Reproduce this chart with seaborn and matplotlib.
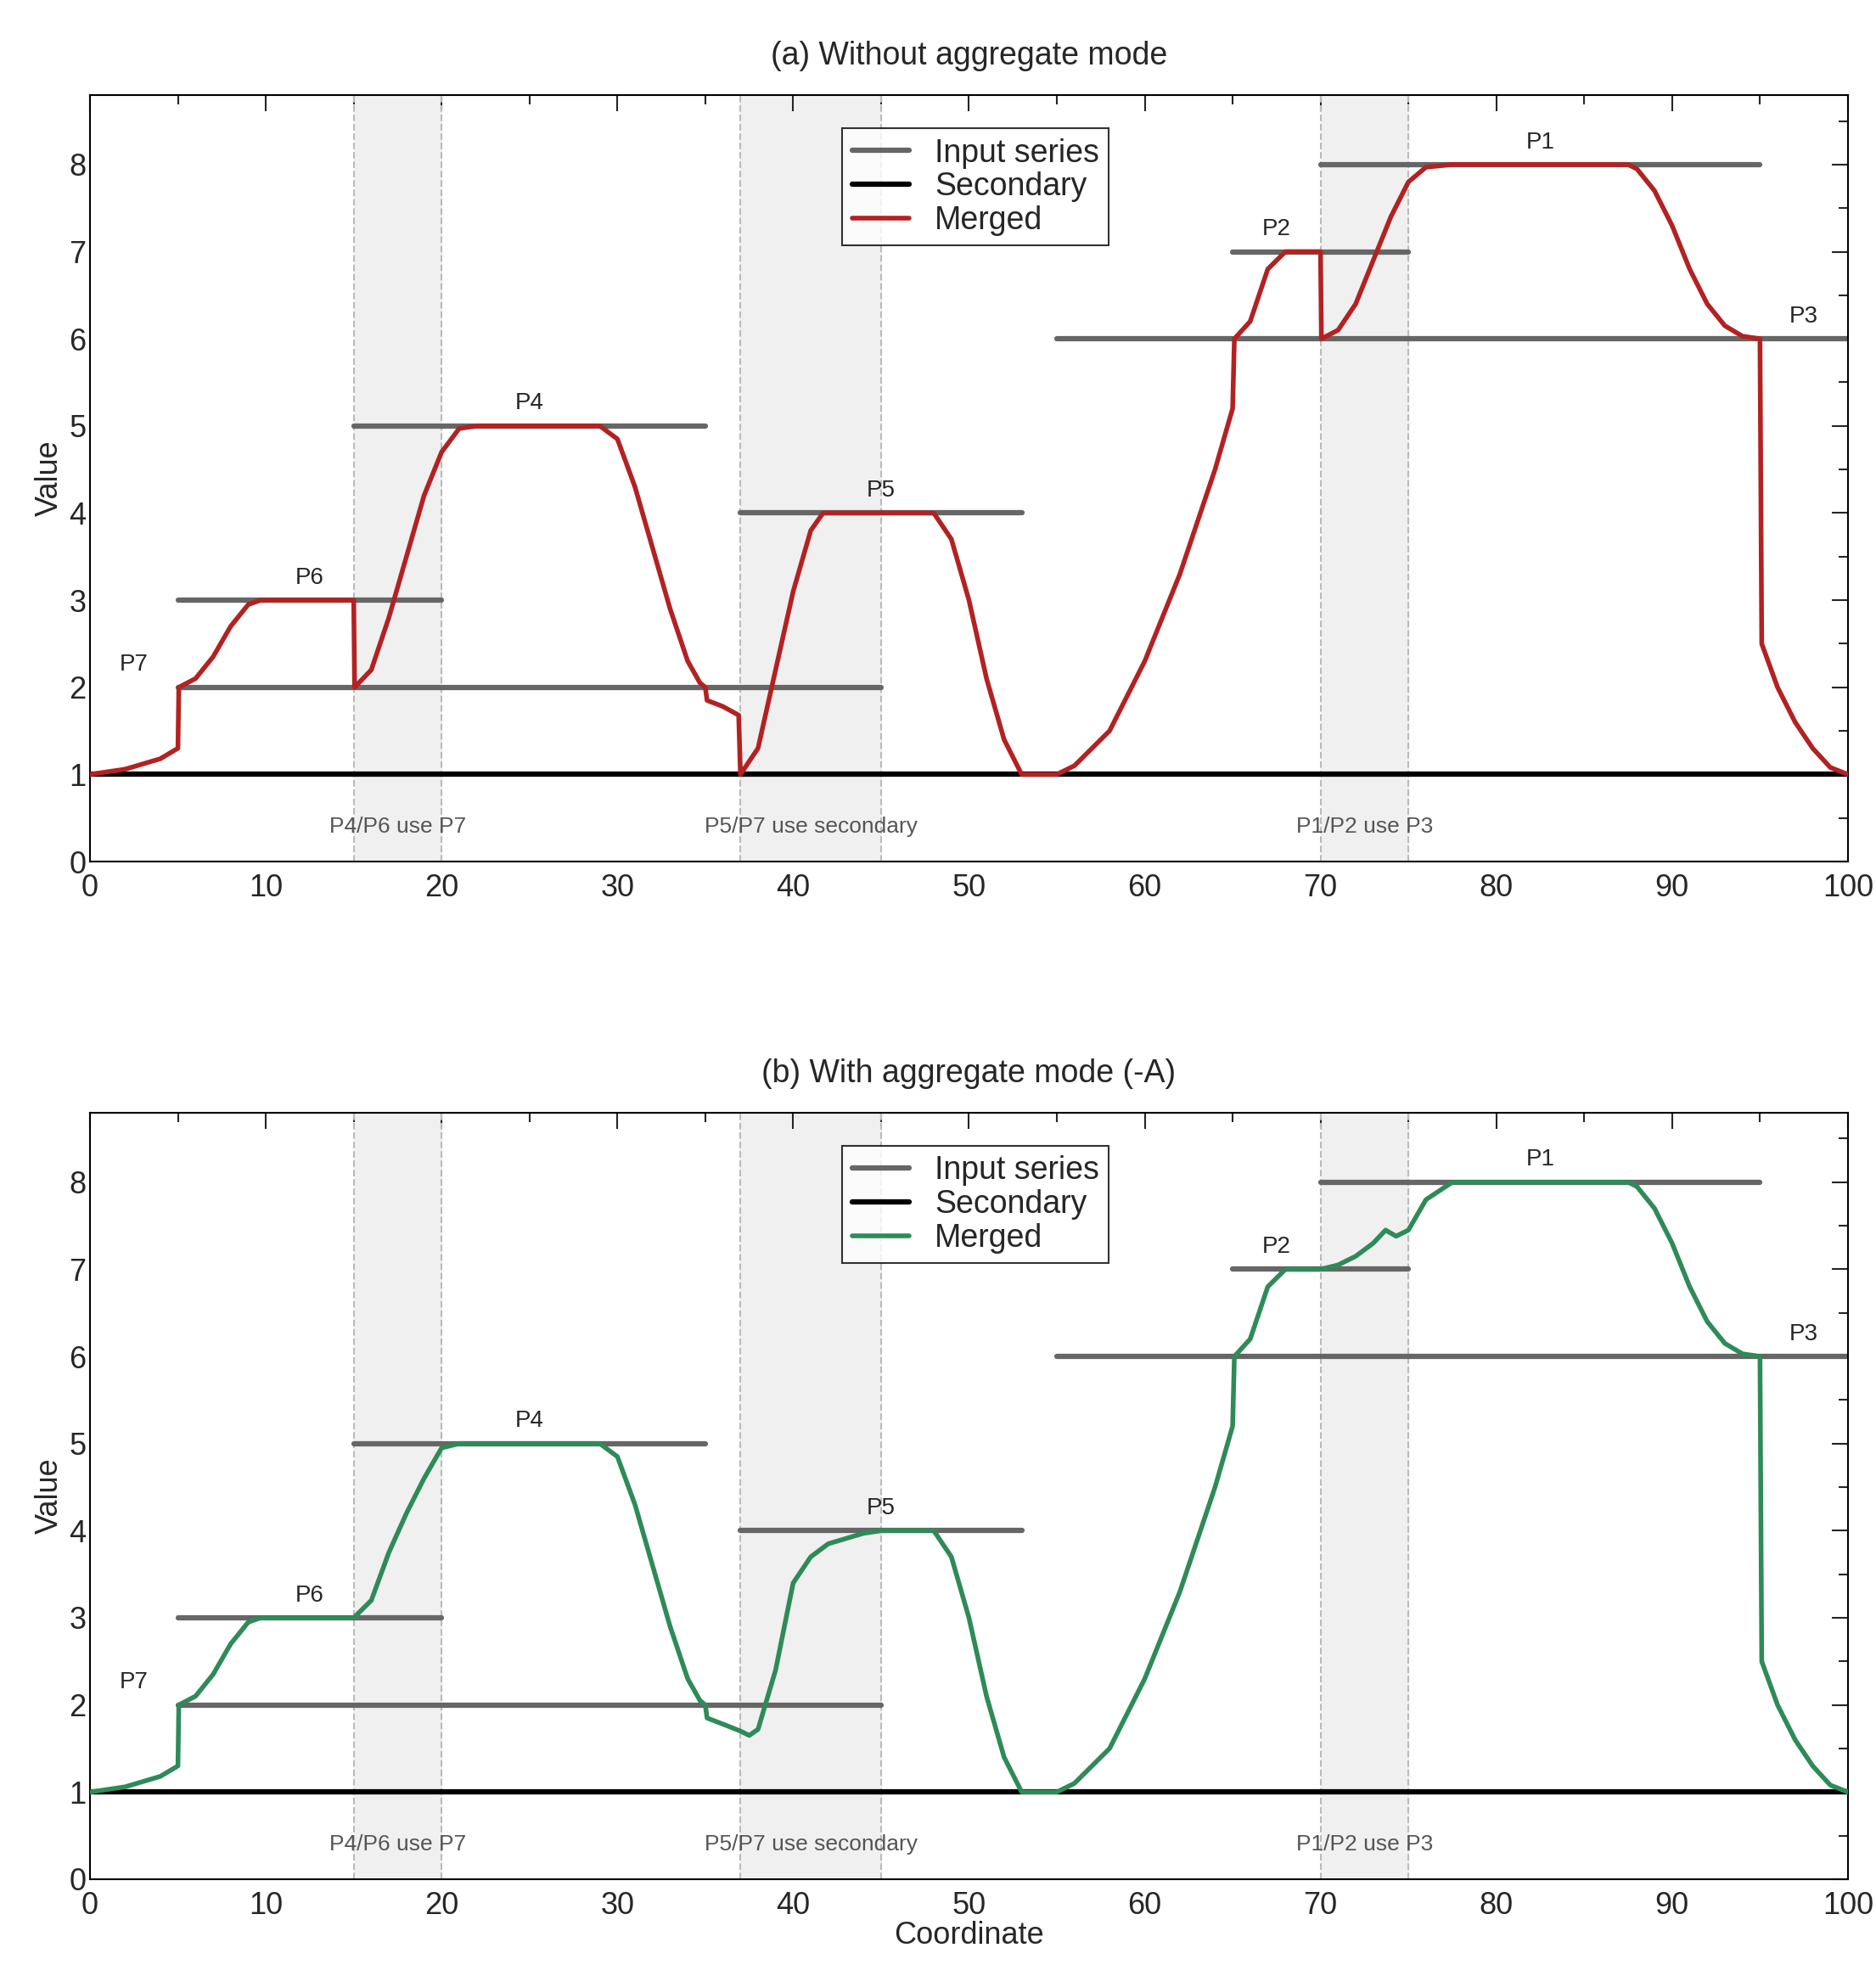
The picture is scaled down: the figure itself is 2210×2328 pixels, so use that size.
import matplotlib
matplotlib.use("Agg")
import matplotlib.pyplot as plt
import seaborn as sns
import pandas as pd
from matplotlib.ticker import MultipleLocator

sns.set_theme(style="white")
plt.rcParams['font.family'] = ['Liberation Sans', 'DejaVu Sans']

# input series: name, x start, x end, value
series_names = ["P7", "P6", "P4", "P5", "P3", "P2", "P1"]
series_x0 = [5, 5, 15, 37, 55, 65, 70]
series_x1 = [45, 20, 35, 53, 100, 75, 95]
series_y = [2, 3, 5, 4, 6, 7, 8]
label_x = [2.5, 12.5, 25, 45, 97.5, 67.5, 82.5]

shade_x0 = [15, 37, 70]
shade_x1 = [20, 45, 75]
shade_text = ["P4/P6 use P7", "P5/P7 use secondary", "P1/P2 use P3"]

# merged curve, panel (a)
merged_a_x = [0, 2, 4, 5, 5.05, 6, 7, 8, 9, 9.7, 15, 15.05, 16, 17, 18, 19, 20, 21, 22, 29, 30, 31, 32, 33, 34, 34.7, 35, 35.1,
              36, 36.9, 37, 38, 39, 40, 41, 41.7, 48, 49, 50, 51, 52, 53, 55, 56, 58, 60, 62, 64, 65, 65.1, 66, 67, 68,
              70, 70.05, 71, 72, 73, 74, 75, 76, 77.5, 87.5, 88, 89, 90, 91, 92, 93, 94, 95, 95.1, 96, 97, 98, 99, 100]
merged_a_y = [1, 1.06, 1.18, 1.3, 2, 2.1, 2.35, 2.7, 2.95, 3, 3, 2, 2.2, 2.8, 3.5, 4.2, 4.7, 4.97, 5, 5, 4.85, 4.3, 3.6, 2.9, 2.3, 2.05, 2.0, 1.85,
              1.78, 1.68, 1, 1.3, 2.2, 3.1, 3.8, 4, 4, 3.7, 3, 2.1, 1.4, 1, 1, 1.1, 1.5, 2.3, 3.3, 4.5, 5.2, 6, 6.2, 6.8, 7,
              7, 6, 6.1, 6.4, 6.9, 7.4, 7.8, 7.97, 8, 8, 7.95, 7.7, 7.3, 6.8, 6.4, 6.15, 6.03, 6, 2.5, 2.0, 1.6, 1.3, 1.08, 1]

# merged curve, panel (b)
merged_b_x = [0, 2, 4, 5, 5.05, 6, 7, 8, 9, 9.7, 15, 16, 17, 18, 19, 20, 21, 22, 29, 30, 31, 32, 33, 34, 34.7, 35, 35.1,
              36, 37, 37.5, 38, 39, 40, 41, 42, 44, 45, 48, 49, 50, 51, 52, 53, 55, 56, 58, 60, 62, 64, 65, 65.1, 66, 67, 68,
              70, 71, 72, 73, 73.7, 74.3, 75, 76, 77.5, 87.5, 88, 89, 90, 91, 92, 93, 94, 95, 95.1, 96, 97, 98, 99, 100]
merged_b_y = [1, 1.06, 1.18, 1.3, 2, 2.1, 2.35, 2.7, 2.95, 3, 3, 3.2, 3.75, 4.2, 4.6, 4.95, 5, 5, 5, 4.85, 4.3, 3.6, 2.9, 2.3, 2.05, 2.0, 1.85,
              1.78, 1.7, 1.65, 1.72, 2.4, 3.4, 3.7, 3.85, 3.97, 4, 4, 3.7, 3, 2.1, 1.4, 1, 1, 1.1, 1.5, 2.3, 3.3, 4.5, 5.2, 6, 6.2, 6.8, 7,
              7, 7.05, 7.15, 7.3, 7.45, 7.38, 7.45, 7.8, 8, 8, 7.95, 7.7, 7.3, 6.8, 6.4, 6.15, 6.03, 6, 2.5, 2.0, 1.6, 1.3, 1.08, 1]

fig = plt.figure(figsize=(22.1, 23.28), dpi=100)
ax_a = fig.add_axes([0.048, 0.564, 0.937, 0.388])
ax_b = fig.add_axes([0.048, 0.049, 0.937, 0.388])

def draw(ax, mx, my, color, title):
    for x0, x1 in zip(shade_x0, shade_x1):
        ax.axvspan(x0, x1, color="#f0f0f0", zorder=0)
        for xv in (x0, x1):
            ax.axvline(xv, color="#bbbbbb", ls="--", lw=1.5, zorder=1)
    for x0, x1, t in zip(shade_x0, shade_x1, shade_text):
        ax.text((x0 + x1) / 2, 0.4, t, ha="center", va="center", fontsize=19, color="#555555")
    for i, (n, x0, x1, y) in enumerate(zip(series_names, series_x0, series_x1, series_y)):
        seg = pd.DataFrame({"x": [x0, x1], "y": [y, y]})
        sns.lineplot(data=seg, x="x", y="y", ax=ax, color="#666666", lw=4.5,
                     label="Input series" if i == 0 else None, zorder=2)
        ax.text(label_x[i], y + 0.13, n, ha="center", va="bottom", fontsize=20)
    sec = pd.DataFrame({"x": [0, 100], "y": [1, 1]})
    sns.lineplot(data=sec, x="x", y="y", ax=ax, color="black", lw=4.5, label="Secondary", zorder=3)
    mdf = pd.DataFrame({"x": mx, "y": my})
    sns.lineplot(data=mdf, x="x", y="y", ax=ax, color=color, lw=4, label="Merged", sort=False, zorder=4)
    ax.set_xlim(0, 100)
    ax.set_ylim(0, 8.8)
    ax.xaxis.set_major_locator(MultipleLocator(10))
    ax.xaxis.set_minor_locator(MultipleLocator(5))
    ax.yaxis.set_major_locator(MultipleLocator(1))
    ax.yaxis.set_minor_locator(MultipleLocator(0.5))
    ax.tick_params(which="both", direction="in", top=True, right=True, labelsize=26, width=1.5)
    ax.tick_params(which="major", length=14)
    ax.tick_params(which="minor", length=8)
    ax.tick_params(axis="x", pad=10)
    for s in ax.spines.values():
        s.set_linewidth(1.5)
        s.set_color("black")
    ax.set_ylabel("Value", fontsize=26, labelpad=4)
    ax.set_xlabel("")
    ax.set_title(title, fontsize=27, pad=26)
    leg = ax.legend(loc="upper left", bbox_to_anchor=(0.419, 0.977), fontsize=27, frameon=True,
                    fancybox=False, edgecolor="black", handlelength=1.8, borderpad=0.3, labelspacing=0.1)
    leg.get_frame().set_linewidth(1.5)

draw(ax_a, merged_a_x, merged_a_y, "#b22222", "(a) Without aggregate mode")
draw(ax_b, merged_b_x, merged_b_y, "#2e8b57", "(b) With aggregate mode (-A)")
ax_b.set_xlabel("Coordinate", fontsize=26, labelpad=0)

fig.savefig("out.png", dpi=100)
